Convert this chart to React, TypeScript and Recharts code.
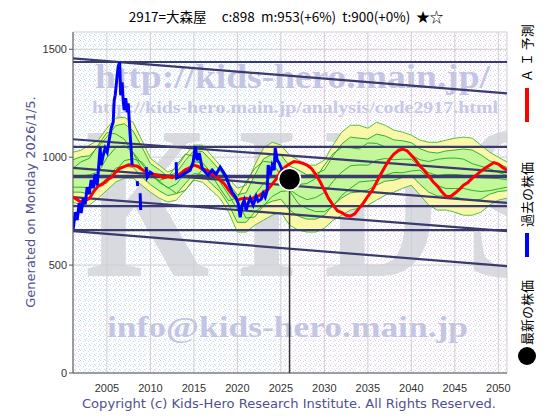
import { ComposedChart, Line, Area, XAxis, YAxis, CartesianGrid } from "recharts"

const X_MIN = 2001.1
const X_MAX = 2051
const Y_MAX = 1580

const xTicks = [2005, 2010, 2015, 2020, 2025, 2030, 2035, 2040, 2045, 2050]
const yTicks = [0, 500, 1000, 1500]

// AI forecast, half-year steps
const aiYears = [
  2001.1, 2001.5, 2002, 2002.5, 2003, 2003.5, 2004, 2004.5, 2005, 2005.5, 2006, 2006.5, 2007, 2007.5, 2008,
  2008.5, 2009, 2009.5, 2010, 2010.5, 2011, 2011.5, 2012, 2012.5, 2013, 2013.5, 2014, 2014.5, 2015, 2015.5,
  2016, 2016.5, 2017, 2017.5, 2018, 2018.5, 2019, 2019.5, 2020, 2020.5, 2021, 2021.5, 2022, 2022.5, 2023,
  2023.5, 2024, 2024.5, 2025, 2025.5, 2026, 2026.5, 2027, 2027.5, 2028, 2028.5, 2029, 2029.5, 2030, 2030.5,
  2031, 2031.5, 2032, 2032.5, 2033, 2033.5, 2034, 2034.5, 2035, 2035.5, 2036, 2036.5, 2037, 2037.5, 2038,
  2038.5, 2039, 2039.5, 2040, 2040.5, 2041, 2041.5, 2042, 2042.5, 2043, 2043.5, 2044, 2044.5, 2045, 2045.5,
  2046, 2046.5, 2047, 2047.5, 2048, 2048.5, 2049, 2049.5, 2050, 2050.5, 2051,
]
const aiForecast = [
  815, 805, 792, 798, 810, 842, 866, 875, 894, 905, 931, 948, 956, 965, 961, 958, 944, 930, 921, 920, 914,
  905, 910, 905, 914, 925, 942, 950, 963, 957, 944, 940, 924, 915, 894, 876, 847, 822, 801, 808, 810, 805,
  815, 822, 836, 850, 875, 900, 935, 955, 968, 980, 977, 972, 963, 948, 921, 887, 847, 808, 778, 752, 743,
  731, 727, 738, 764, 788, 819, 846, 884, 922, 958, 990, 1014, 1030, 1037, 1030, 1009, 986, 958, 938, 912,
  886, 866, 840, 819, 818, 833, 850, 870, 882, 903, 918, 935, 950, 963, 975, 968, 952, 940,
]

// similar-pattern band, yearly
const years = [
  2001.1, 2002, 2003, 2004, 2005, 2006, 2007, 2008, 2009, 2010, 2011, 2012, 2013, 2014, 2015, 2016, 2017,
  2018, 2019, 2020, 2021, 2022, 2023, 2024, 2025, 2026, 2027, 2028, 2029, 2030, 2031, 2032, 2033, 2034,
  2035, 2036, 2037, 2038, 2039, 2040, 2041, 2042, 2043, 2044, 2045, 2046, 2047, 2048, 2049, 2050, 2051,
]
const bandHigh = [
  1023, 1032, 1056, 1079, 1134, 1181, 1185, 1162, 1079, 995, 963, 931, 949, 1009, 1056, 1056, 1009, 963,
  903, 856, 870, 963, 1042, 1069, 1056, 1009, 986, 963, 963, 986, 1056, 1116, 1148, 1148, 1134, 1162, 1148,
  1125, 1116, 1102, 1079, 1069, 1069, 1079, 1088, 1093, 1088, 1056, 1023, 1000, 977,
]
const bandLow = [
  792, 778, 778, 810, 847, 884, 903, 903, 870, 838, 810, 792, 801, 847, 894, 884, 847, 810, 745, 653, 653,
  685, 708, 731, 745, 685, 662, 653, 653, 671, 708, 731, 755, 764, 778, 801, 824, 838, 856, 870, 824, 778,
  755, 755, 745, 731, 731, 745, 778, 801, 810,
]
const innerHigh = [
  988, 1002, 1006, 1049, 1094, 1146, 1155, 1122, 1049, 970, 943, 911, 929, 984, 1031, 1026, 984, 938, 878,
  826, 835, 918, 992, 1014, 1011, 959, 941, 918, 923, 941, 1006, 1061, 1093, 1088, 1084, 1107, 1098, 1080,
  1076, 1067, 1039, 1024, 1019, 1029, 1033, 1038, 1033, 1011, 983, 970, 952,
]
const innerLow = [
  838, 838, 828, 870, 897, 949, 958, 953, 910, 873, 845, 822, 831, 877, 924, 919, 877, 840, 780, 698, 698,
  745, 778, 796, 805, 755, 727, 713, 713, 731, 778, 811, 835, 839, 848, 871, 889, 893, 906, 915, 874, 838,
  820, 820, 815, 806, 801, 805, 828, 841, 845,
]
const simA = [
  948, 978, 995, 1057, 1114, 1108, 1083, 1020, 948, 915, 892, 906, 962, 1014, 1004, 957, 920, 855, 798, 813,
  885, 948, 981, 975, 915, 897, 873, 878, 901, 963, 1016, 1045, 1044, 1038, 1066, 1064, 1048, 1046, 1040,
  1009, 988, 980, 990, 995, 996, 991, 970, 958, 946, 930, 915,
]
const simB = [
  908, 913, 918, 930, 997, 1044, 1053, 1023, 970, 913, 890, 857, 876, 927, 979, 974, 927, 885, 825, 758, 763,
  825, 878, 911, 905, 850, 822, 803, 813, 836, 888, 931, 960, 964, 963, 986, 994, 988, 991, 990, 954, 928,
  915, 920, 920, 916, 911, 905, 903, 901, 895,
]
const simC = [
  861, 861, 858, 873, 880, 937, 984, 993, 978, 930, 883, 860, 832, 846, 897, 944, 939, 897, 855, 795, 718,
  723, 775, 818, 841, 845, 785, 762, 748, 748, 771, 823, 856, 885, 889, 893, 916, 929, 928, 936, 940, 904,
  868, 855, 855, 855, 846, 841, 845, 853, 861,
]

// past share price (null = no data)
const pastYears = [
  2001.12, 2001.35, 2001.58, 2001.81, 2002.04, 2002.27, 2002.5, 2002.73, 2002.96, 2003.19, 2003.42, 2003.65,
  2003.88, 2004.11, 2004.22, 2004.34, 2004.57, 2004.8, 2005.03, 2005.26, 2005.49, 2005.72, 2005.84, 2005.95,
  2006.07, 2006.18, 2006.3, 2006.47, 2006.58, 2006.75, 2006.87, 2006.98, 2007.16, 2007.33, 2007.45, 2007.62,
  2007.79, 2007.9, 2008.2, 2008.48, 2008.54, 2008.7, 2008.82, 2008.88, 2009.2, 2009.51, 2009.63, 2009.97,
  2010.32, 2011.5, 2012.96, 2013.02, 2013.42, 2014.0, 2014.57, 2014.92, 2015.15, 2015.38, 2015.61, 2015.95,
  2016.3, 2016.64, 2017.1, 2017.56, 2018.02, 2018.37, 2018.71, 2019.06, 2019.4, 2019.75, 2020.09, 2020.32,
  2020.55, 2020.78, 2021.01, 2021.24, 2021.47, 2021.82, 2022.16, 2022.39, 2022.74, 2022.97, 2023.2, 2023.43,
  2023.54, 2023.77, 2024.0, 2024.23, 2024.35, 2024.58, 2024.81, 2025.15, 2025.5, 2025.73, 2026.0,
]
const pastPrices = [
  667, 745, 708, 787, 741, 810, 782, 861, 829, 894, 856, 921, 870, 986, 1046, 963, 1009, 1042, 1023, 1079,
  1134, 1162, 1264, 1287, 1333, 1380, 1421, 1440, 1287, 1347, 1264, 1218, 1273, 1208, 1250, 1134, 1032, 963,
  null, 889, 866, null, 833, 755, null, 954, 907, 931, 921, null, 977, 903, 912, 926, 940, 977, 1051, 986,
  1019, 949, 931, 917, 940, 921, 954, 931, 907, 870, 838, 819, 787, 722, 778, 801, 755, 787, 810, 778, 819,
  796, 806, 833, 815, 847, 963, 917, 963, 940, 1042, 986, 972, 940, 921, 907, 898,
]

// support / resistance lines: value at left edge and at right edge
const trendFrom = [1441, 1458, 1048, 1083, 950, 910, 815, 773, 662, 657]
const trendTo = [1441, 1296, 1048, 931, 788, 910, 657, 773, 662, 495]
const THICK_TREND = 5

const latestYear = 2026
const latestPrice = 898

const bandData = years.map((year, i) => ({
  year,
  outer: [bandLow[i], bandHigh[i]],
  inner: [innerLow[i], innerHigh[i]],
  a: simA[i],
  b: simB[i],
  c: simC[i],
}))
const aiData = aiYears.map((year, i) => ({ year, v: aiForecast[i] }))
const pastData = pastYears.map((year, i) => ({ year, v: pastPrices[i] }))
const trendData = trendFrom.map((v, i) => [
  { year: X_MIN, v },
  { year: X_MAX, v: trendTo[i] },
])
const latestData = [{ year: latestYear, v: latestPrice }]
const dropData = [
  { year: latestYear, v: latestPrice },
  { year: latestYear, v: 0 },
]

const NAVY = "#3a3a6e"
const tickStyle = { fontSize: 11, fill: "#333", fontFamily: "Liberation Sans, Arial, sans-serif" }

function Background() {
  return (
    <svg width={560} height={420} style={{ position: "absolute", left: 0, top: 0 }}>
      <defs>
        <pattern id="dotsCyan" width="5" height="5" patternUnits="userSpaceOnUse">
          <rect width="5" height="5" fill="#fff" />
          <rect x="0" y="0" width="1" height="1" fill="#a8e8f0" />
          <rect x="3" y="1" width="1" height="1" fill="#d8d8e8" />
          <rect x="1" y="3" width="1" height="1" fill="#c0f0f4" />
          <rect x="4" y="4" width="1" height="1" fill="#e8c8ec" />
        </pattern>
        <pattern id="dotsPink" width="5" height="5" patternUnits="userSpaceOnUse">
          <rect width="5" height="5" fill="#fff" />
          <rect x="0" y="0" width="1" height="1" fill="#f0b8ec" />
          <rect x="3" y="1" width="1" height="1" fill="#d8d8e8" />
          <rect x="1" y="3" width="1" height="1" fill="#f4d0f0" />
          <rect x="4" y="4" width="1" height="1" fill="#c8eef2" />
        </pattern>
        <clipPath id="plotClip">
          <rect x={73} y={32} width={434} height={341} />
        </clipPath>
      </defs>
      <rect x={73} y={32} width={216} height={341} fill="url(#dotsCyan)" />
      <rect x={289} y={32} width={218} height={341} fill="url(#dotsPink)" />
      <g fontFamily="Liberation Serif, Times New Roman, serif" fontWeight="bold" clipPath="url(#plotClip)">
        <text
          x={0}
          y={0}
          transform="translate(85 276) scale(1 1.36)"
          fontSize={160}
          letterSpacing={26}
          fill="#d9d9e0"
        >
          KIDS
        </text>
        <text x={95} y={88} fontSize={34} fill="#c4c4e4" textLength={395} lengthAdjust="spacingAndGlyphs">
          http://kids-hero.main.jp/
        </text>
        <text x={92} y={113} fontSize={17} fill="#c8c8e8" textLength={406} lengthAdjust="spacingAndGlyphs">
          http://kids-hero.main.jp/analysis/code2917.html
        </text>
        <text x={107} y={337} fontSize={30} fill="#c4c4e4" textLength={361} lengthAdjust="spacingAndGlyphs">
          info@kids-hero.main.jp
        </text>
      </g>
    </svg>
  )
}

function Labels() {
  const sans = "DejaVu Sans, Verdana, sans-serif"
  const jp = "Noto Sans CJK JP, sans-serif"
  return (
    <svg width={560} height={420} style={{ position: "absolute", left: 0, top: 0, pointerEvents: "none" }}>
      <text x={286} y={22} textAnchor="middle" fontSize={13.5} fontFamily={jp} fill="#000" style={{ whiteSpace: "pre" }}>
        {"2917=大森屋     c:898  m:953(+6%)  t:900(+0%)  ★☆"}
      </text>
      <text
        x={0}
        y={0}
        transform="translate(35 202) rotate(-90)"
        textAnchor="middle"
        fontSize={13}
        fontFamily={sans}
        fill="#505090"
      >
        Generated on Monday 2026/1/5.
      </text>
      <text x={289} y={408} textAnchor="middle" fontSize={12} fontFamily={sans} fill="#505090" textLength={414} lengthAdjust="spacingAndGlyphs">
        Copyright (c) Kids-Hero Research Institute. All Rights Reserved.
      </text>
      <g transform="translate(527 365) rotate(-90)" fontFamily={jp} fontSize={13} fill="#000">
        <circle cx={9} cy={0} r={9} fill="#000" />
        <text x={20} y={5}>最新の株価</text>
        <rect x={108} y={-2} width={24} height={4} fill="#0000ff" />
        <text x={138} y={5}>過去の株価</text>
        <rect x={243} y={-2} width={34} height={4} fill="#ff0000" />
        <text x={283} y={5}>Ａ Ｉ 予測</text>
      </g>
    </svg>
  )
}

export default function App() {
  return (
    <div style={{ position: "absolute", left: 0, top: 0, width: 560, height: 420, background: "#fff" }}>
      <Background />
      <div style={{ position: "absolute", left: 0, top: 0 }}>
        <ComposedChart width={560} height={420} data={bandData} margin={{ top: 32, right: 53, bottom: 17, left: 33 }}>
          <CartesianGrid stroke="#cfcfcf" strokeWidth={1} />
          <XAxis
            dataKey="year"
            type="number"
            domain={[X_MIN, X_MAX]}
            allowDataOverflow
            ticks={xTicks}
            tick={tickStyle}
            tickLine={false}
            tickMargin={5}
            height={30}
            stroke="#555"
          />
          <XAxis xAxisId="top" orientation="top" dataKey="year" type="number" domain={[X_MIN, X_MAX]} allowDataOverflow height={0} tick={false} tickLine={false} stroke="#777" />
          <YAxis
            type="number"
            domain={[0, Y_MAX]}
            allowDataOverflow
            ticks={yTicks}
            tick={tickStyle}
            tickSize={4}
            width={40}
            stroke="#555"
          />
          <YAxis yAxisId="right" orientation="right" domain={[0, Y_MAX]} width={0} tick={false} tickLine={false} stroke="#777" />
          <Area dataKey="outer" type="linear" fill="#fbf7a8" fillOpacity={1} stroke="#55c040" strokeWidth={1} isAnimationActive={false} />
          <Area dataKey="inner" type="linear" fill="#c4f79a" fillOpacity={1} stroke="#33b030" strokeWidth={1} isAnimationActive={false} />
          <Line dataKey="a" type="linear" stroke="#2fae2a" strokeWidth={1} dot={false} isAnimationActive={false} />
          <Line dataKey="b" type="linear" stroke="#2fae2a" strokeWidth={1} dot={false} isAnimationActive={false} />
          <Line dataKey="c" type="linear" stroke="#2fae2a" strokeWidth={1} dot={false} isAnimationActive={false} />
          {trendData.map((d, i) => (
            <Line
              key={i}
              data={d}
              dataKey="v"
              type="linear"
              stroke={NAVY}
              strokeWidth={i === THICK_TREND ? 3.5 : 2.2}
              dot={false}
              isAnimationActive={false}
            />
          ))}
          <Line data={aiData} dataKey="v" type="linear" stroke="#ff0000" strokeWidth={3} dot={false} isAnimationActive={false} />
          <Line data={pastData} dataKey="v" type="linear" stroke="#0000ff" strokeWidth={3} dot={false} isAnimationActive={false} />
          <Line data={dropData} dataKey="v" type="linear" stroke="#333" strokeWidth={1.5} dot={false} isAnimationActive={false} />
          <Line
            data={latestData}
            dataKey="v"
            stroke="none"
            dot={{ r: 11, fill: "#000", stroke: "#fff", strokeWidth: 1.5 }}
            isAnimationActive={false}
          />
        </ComposedChart>
      </div>
      <Labels />
    </div>
  )
}
